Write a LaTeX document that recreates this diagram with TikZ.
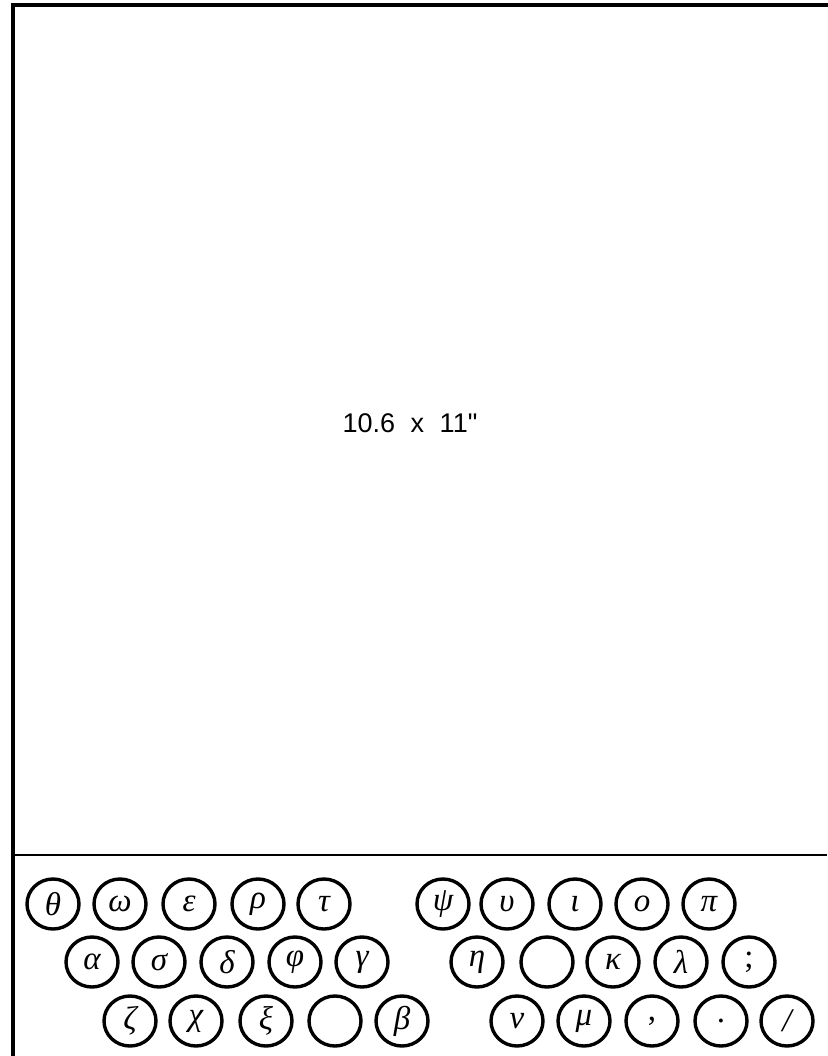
\documentclass[tikz,border=0pt]{standalone}
\usepackage{fontspec}
\newfontfamily\labelfont{Liberation Sans}
\newfontfamily\keyfont{Liberation Serif}
\usetikzlibrary{shapes.geometric}
\tikzset{
  keyoval/.style={draw=black, line width=3.4pt, ellipse, minimum width=52pt, minimum height=50pt, inner sep=0pt, font=\keyfont\itshape\fontsize{33}{36}\selectfont},
  frameline/.style={line width=4pt, line cap=rect},
  dividerline/.style={line width=2.4pt}
}
\begin{document}
\begin{tikzpicture}[x=1pt,y=-1pt]
\useasboundingbox (0,0) rectangle (827,1056);
% frame
\coordinate (tl) at (12.5,5.5);
\coordinate (tr) at (827,5.5);
\coordinate (bl) at (12.5,1056);
\coordinate (dl) at (12.5,855);
\coordinate (dr) at (827,855);
\draw[frameline] (tr) -- (tl) -- (bl);
\draw[dividerline] (dl) -- (dr);
% size label
\node[font=\labelfont\fontsize{27}{30}\selectfont, inner sep=0pt] (size) at (410,423) {10.6\hspace{8pt} x\hspace{8pt} 11"};
% row 1
\node[keyoval] (k11) at (53,904) {θ};
\node[keyoval] (k12) at (120,904) {ω};
\node[keyoval] (k13) at (189,904) {ε};
\node[keyoval] (k14) at (258,904) {ρ};
\node[keyoval] (k15) at (324,904) {τ};
\node[keyoval] (k16) at (443,904) {ψ};
\node[keyoval] (k17) at (507,904) {υ};
\node[keyoval] (k18) at (575,904) {ι};
\node[keyoval] (k19) at (642,904) {ο};
\node[keyoval] (k110) at (709,904) {π};
% row 2
\node[keyoval] (k21) at (92,962) {α};
\node[keyoval] (k22) at (159,962) {σ};
\node[keyoval] (k23) at (227,962) {δ};
\node[keyoval] (k24) at (295,962) {φ};
\node[keyoval] (k25) at (362,962) {γ};
\node[keyoval] (k26) at (477,962) {η};
\node[keyoval] (k27) at (547,962) {};
\node[keyoval] (k28) at (613,962) {κ};
\node[keyoval] (k29) at (681,962) {λ};
\node[keyoval] (k210) at (749,962) {\upshape ;};
% row 3
\node[keyoval] (k31) at (130,1021) {ζ};
\node[keyoval] (k32) at (196,1021) {χ};
\node[keyoval] (k33) at (266,1021) {ξ};
\node[keyoval] (k34) at (335,1021) {};
\node[keyoval] (k35) at (402,1021) {β};
\node[keyoval] (k36) at (517,1021) {ν};
\node[keyoval] (k37) at (584,1021) {μ};
\node[keyoval] (k38) at (652,1021) {\upshape ,};
\node[keyoval] (k39) at (721,1021) {\upshape .};
\node[keyoval] (k310) at (787,1021) {/};
\end{tikzpicture}
\end{document}
